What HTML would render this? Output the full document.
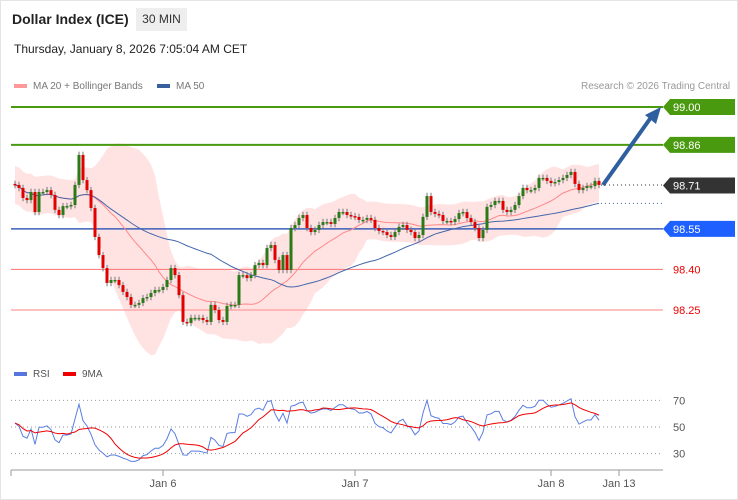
<!DOCTYPE html>
<html><head><meta charset="utf-8"><style>
body{margin:0;background:#fff;font-family:"Liberation Sans",Arial,sans-serif;}
#wrap{position:relative;width:736px;height:498px;border:1px solid #e4e4e4;overflow:hidden;background:#fff}
.t{position:absolute;white-space:nowrap}
</style></head><body>
<div id="wrap">
<div class="t" style="left:11px;top:10px;font-size:14px;font-weight:bold;color:#222">Dollar Index (ICE)</div>
<div class="t" style="left:135px;top:7px;width:51px;height:23px;line-height:23px;text-align:center;background:#eee;font-size:12px;color:#333">30 MIN</div>
<div class="t" style="left:13px;top:41px;font-size:12px;color:#222">Thursday, January 8, 2026 7:05:04 AM CET</div>
<div class="t" style="left:13px;top:80px;font-size:10px;color:#777"><span style="display:inline-block;width:13px;height:4px;background:#f99;vertical-align:middle;margin-right:6px"></span>MA 20 + Bollinger Bands</div>
<div class="t" style="left:156px;top:80px;font-size:10px;color:#777"><span style="display:inline-block;width:13px;height:4px;background:#3a5f9f;vertical-align:middle;margin-right:6px"></span>MA 50</div>
<div class="t" style="left:580px;top:80px;font-size:10px;color:#999">Research © 2026 Trading Central</div>
<div class="t" style="left:13px;top:368px;font-size:10px;color:#555"><span style="display:inline-block;width:13px;height:4px;background:#5577dd;vertical-align:middle;margin-right:6px"></span>RSI</div>
<div class="t" style="left:62px;top:368px;font-size:10px;color:#555"><span style="display:inline-block;width:13px;height:4px;background:#e00;vertical-align:middle;margin-right:6px"></span>9MA</div>
<svg id="svg" width="738" height="500" style="position:absolute;left:-1px;top:-1px"></svg>
</div>
<script>
const closes=[98.712,98.701,98.664,98.656,98.686,98.612,98.686,98.686,98.693,98.675,98.620,98.601,98.634,98.634,98.638,98.712,98.823,98.730,98.693,98.627,98.520,98.453,98.405,98.350,98.361,98.361,98.342,98.317,98.298,98.269,98.269,98.276,98.294,98.298,98.313,98.324,98.324,98.335,98.361,98.405,98.379,98.305,98.206,98.202,98.221,98.221,98.221,98.213,98.206,98.269,98.250,98.213,98.206,98.265,98.269,98.269,98.379,98.379,98.368,98.379,98.416,98.424,98.416,98.479,98.490,98.435,98.398,98.453,98.398,98.553,98.564,98.590,98.601,98.553,98.538,98.546,98.564,98.575,98.575,98.568,98.590,98.612,98.612,98.601,98.597,98.594,98.583,98.583,98.590,98.583,98.553,98.542,98.538,98.527,98.520,98.538,98.557,98.564,98.546,98.538,98.516,98.527,98.594,98.671,98.612,98.605,98.601,98.579,98.579,98.575,98.586,98.608,98.612,98.590,98.575,98.553,98.516,98.546,98.631,98.638,98.653,98.653,98.620,98.612,98.620,98.638,98.671,98.701,98.693,98.693,98.701,98.738,98.738,98.727,98.719,98.723,98.730,98.738,98.749,98.760,98.716,98.693,98.701,98.708,98.708,98.727,98.712];
const levels=[99.00,98.86,98.71,98.55,98.40,98.25];
const levelLabels=["99.00","98.86","98.71","98.55","98.40","98.25"];
const rsiTicks=[70,50,30];
const dateLabels=["Jan 6","Jan 7","Jan 8","Jan 13"];
const dateIndex=[37,85,134,151];

const svg=document.getElementById('svg');
const NS='http://www.w3.org/2000/svg';
function py(p){return 107+(99-p)*270.7;}
function px(i){return 15+i*4;}
function ry(v){return 427-(v-50)*1.33;}
function mk(tag,attrs,name,parent){const e=document.createElementNS(NS,tag);for(const k in attrs)e.setAttribute(k,attrs[k]);


(parent||svg).appendChild(e);return e;}
const n=closes.length;
const ma20=[],up=[],lo=[],ma50=[];
for(let i=0;i<n;i++){
 const s=closes.slice(Math.max(0,i-19),i+1);const m=s.reduce((a,b)=>a+b,0)/s.length;
 const sd=Math.sqrt(s.reduce((a,b)=>a+(b-m)*(b-m),0)/s.length);
 ma20.push(m);up.push(m+2*Math.max(sd,0.035));lo.push(m-2*Math.max(sd,0.035));
 const s5=closes.slice(Math.max(0,i-49),i+1);ma50.push(s5.reduce((a,b)=>a+b,0)/s5.length);
}
let band='M';for(let i=0;i<n;i++)band+=px(i)+','+py(up[i])+' ';
for(let i=n-1;i>=0;i--)band+='L'+px(i)+','+py(lo[i])+' ';
mk('path',{d:band+'Z',fill:'#ffdede',opacity:0.85},'bollinger-band');
const lvlColors=['#4a9a10','#4a9a10',null,'#3a60b8','#ff8080','#ff9a9a'];
levels.forEach((l,k)=>{if(lvlColors[k])mk('line',{x1:11,x2:663,y1:py(l),y2:py(l),stroke:lvlColors[k],'stroke-width':k<2?2:(k==3?1.5:1.2)},'level-line-'+levelLabels[k]);});
mk('polyline',{points:ma20.map((v,i)=>px(i)+','+py(v)).join(' '),fill:'none',stroke:'#f88','stroke-width':1},'ma20-line');
mk('polyline',{points:ma50.map((v,i)=>px(i)+','+py(v)).join(' '),fill:'none',stroke:'#4466aa','stroke-width':1},'ma50-line');
for(let i=0;i<n;i++){
 const o=i?closes[i-1]:closes[i]+0.004,c=closes[i];
 const hi=Math.max(o,c)+0.012,lw=Math.min(o,c)-0.012;
 mk('line',{x1:px(i),x2:px(i),y1:py(hi),y2:py(lw),stroke:'#777','stroke-width':1},'candle-wick');
 const t=py(Math.max(o,c)),b=py(Math.min(o,c));
 mk('rect',{x:px(i)-1.5,y:t,width:3,height:Math.max(1.5,b-t),fill:c>=o?'#2a7a1a':'#e00000'},'candle');
}
const last=n-1;
mk('line',{x1:px(last)+2,x2:663,y1:py(closes[last]),y2:py(closes[last]),stroke:'#333','stroke-dasharray':'1,3'},'last-price-dotted');
mk('line',{x1:px(last)+2,x2:663,y1:py(ma50[last]),y2:py(ma50[last]),stroke:'#4466aa','stroke-dasharray':'1,3'},'ma50-dotted');
mk('line',{x1:px(last)+4,y1:py(closes[last]),x2:652,y2:py(99)+9,stroke:'#2e5f9e','stroke-width':4},'forecast-arrow');
mk('polygon',{points:`661,${py(99)} 645,${py(99)+8} 656,${py(99)+17}`,fill:'#2e5f9e'},'forecast-arrowhead');
const boxCol=['#4a9a10','#4a9a10','#333','#1e60ff',null,null];
levels.forEach((l,k)=>{const y=py(l);
 if(boxCol[k]){mk('polygon',{points:`663,${y} 670,${y-8} 735,${y-8} 735,${y+8} 670,${y+8}`,fill:boxCol[k]},'price-label-box');}
 const t=mk('text',{x:673,y:y+4,'font-size':11,fill:boxCol[k]?'#fff':'#e00','font-family':'Liberation Sans, sans-serif'},'price-label');t.textContent=levelLabels[k];});
// RSI (Wilder smoothing, seeded)
const rsi=[];let ag=0.009,al=0.008;
for(let i=0;i<n;i++){
 if(i>0){const d=closes[i]-closes[i-1];const g=Math.max(d,0),l=Math.max(-d,0);
 ag=(ag*13+g)/14;al=(al*13+l)/14;}
 rsi.push(Math.min(85,Math.max(15,100-100/(1+ag/al))));}
const rsima=rsi.map((v,i)=>{const s=rsi.slice(Math.max(0,i-8),i+1);return s.reduce((a,b)=>a+b,0)/s.length;});
rsiTicks.forEach(t=>{mk('line',{x1:11,x2:663,y1:ry(t),y2:ry(t),stroke:'#999','stroke-dasharray':'1,3'},'rsi-grid-'+t);
 const e=mk('text',{x:673,y:ry(t)+4,'font-size':11,fill:'#555','font-family':'Liberation Sans, sans-serif'},'rsi-tick');e.textContent=t;});
mk('polyline',{points:rsi.map((v,i)=>px(i)+','+ry(v)).join(' '),fill:'none',stroke:'#5a7ee0','stroke-width':1},'rsi-line');
mk('polyline',{points:rsima.map((v,i)=>px(i)+','+ry(v)).join(' '),fill:'none',stroke:'#e00','stroke-width':1},'rsi-ma-line');
mk('line',{x1:11,x2:663,y1:470,y2:470,stroke:'#999'},'x-axis');
mk('line',{x1:11,x2:11,y1:470,y2:476,stroke:'#999'},'x-tick');
dateLabels.forEach((d,k)=>{const x=px(dateIndex[k]);
 mk('line',{x1:x,x2:x,y1:470,y2:476,stroke:'#999'},'x-tick');
 const e=mk('text',{x:x,y:487,'font-size':11,fill:'#555','text-anchor':'middle','font-family':'Liberation Sans, sans-serif'},'x-tick-label');e.textContent=d;});
</script>
</body></html>
